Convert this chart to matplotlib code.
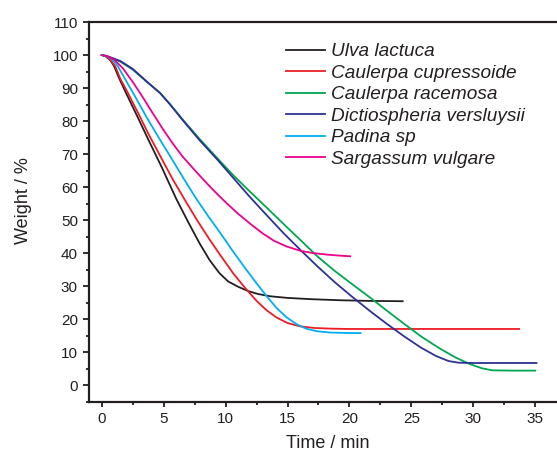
import matplotlib
matplotlib.use("Agg")
import matplotlib.pyplot as plt
from matplotlib.ticker import MultipleLocator

# weight loss curves (time in min, weight in %)
ulva_t = [0, 0.3, 0.7, 1.0, 1.4, 2.0, 2.8, 3.8, 4.9, 6.0, 7.0, 7.9, 8.7, 9.5, 10.2, 11.0, 11.8, 12.6, 13.6, 15.0, 17.0, 19.2, 21.5, 24.3]
ulva_w = [100, 99.7, 98.4, 96.6, 93.0, 88.2, 82.0, 74.1, 65.6, 56.6, 49.3, 43.0, 38.0, 34.0, 31.5, 29.9, 28.6, 27.7, 27.0, 26.5, 26.1, 25.8, 25.6, 25.5]

cupr_t = [0, 0.3, 0.7, 1.1, 1.5, 2.1, 2.9, 3.8, 4.7, 5.7, 6.7, 7.7, 8.7, 9.6, 10.6, 11.6, 12.5, 13.3, 14.1, 15.0, 16.0, 17.2, 18.5, 20, 25, 30, 33.7]
cupr_w = [100, 99.7, 98.5, 96.5, 92.8, 88.6, 82.7, 75.9, 69.6, 62.6, 56.2, 50.0, 44.2, 39.3, 34.0, 29.4, 25.6, 22.8, 20.6, 18.9, 17.9, 17.4, 17.2, 17.1, 17.1, 17.1, 17.1]

race_t = [0, 0.5, 1.5, 2.5, 3.6, 4.7, 5.5, 6.6, 7.9, 9.3, 10.6, 11.9, 13.3, 14.7, 16.1, 17.4, 18.8, 20.2, 21.7, 23.0, 24.4, 25.8, 27.2, 28.5, 29.7, 30.7, 31.5, 33.0, 35.0]
race_w = [100, 99.5, 98, 95.6, 92, 88.6, 85.2, 80.2, 74.6, 68.9, 63.7, 58.9, 53.9, 48.8, 43.8, 39.1, 34.7, 30.7, 26.5, 22.7, 18.7, 14.8, 11.4, 8.6, 6.5, 5.2, 4.6, 4.5, 4.5]

dict_t = [0, 0.5, 1.5, 2.5, 3.6, 4.7, 5.5, 6.6, 7.9, 9.3, 10.6, 11.9, 13.3, 14.7, 16.1, 17.4, 18.8, 20.2, 21.7, 23.0, 24.4, 25.8, 27.0, 28.0, 28.8, 30.0, 35.1]
dict_w = [100, 99.6, 98.2, 95.8, 92.1, 88.5, 85.1, 80.0, 74.2, 68.5, 62.9, 57.3, 51.6, 46.0, 40.8, 36.1, 31.3, 26.9, 22.4, 18.7, 14.9, 11.4, 8.9, 7.4, 6.9, 6.8, 6.8]

padi_t = [0, 0.3, 0.8, 1.3, 1.9, 2.7, 3.6, 4.6, 5.6, 6.6, 7.6, 8.6, 9.6, 10.5, 11.5, 12.4, 13.3, 14.1, 14.9, 15.7, 16.5, 17.4, 18.5, 19.7, 20.9]
padi_w = [100, 99.8, 98.8, 96.6, 92.6, 87.4, 81.3, 75, 68.9, 62.7, 56.7, 51.2, 46.0, 41.1, 35.9, 31.4, 27.1, 23.5, 20.7, 18.6, 17.2, 16.4, 16.0, 15.9, 15.85]

sarg_t = [0, 0.4, 1.0, 1.7, 2.55, 3.3, 4.1, 4.9, 5.7, 6.5, 7.4, 8.3, 9.2, 10.1, 11.0, 12.0, 13.0, 13.9, 14.9, 16.0, 17.0, 18.2, 19.2, 20.06]
sarg_w = [100, 99.7, 98.6, 96.0, 91.6, 87.3, 82.5, 77.8, 73.4, 69.4, 65.6, 61.9, 58.4, 55.1, 52.0, 48.9, 46.0, 43.8, 42.1, 40.8, 40.1, 39.6, 39.3, 39.1]

labels = ["Ulva lactuca", "Caulerpa cupressoide", "Caulerpa racemosa",
          "Dictiospheria versluysii", "Padina sp", "Sargassum vulgare"]

series = [(ulva_t, ulva_w, "#231f20"),
          (cupr_t, cupr_w, "#ed1c24"),
          (race_t, race_w, "#00a651"),
          (dict_t, dict_w, "#2e3192"),
          (padi_t, padi_w, "#00aeef"),
          (sarg_t, sarg_w, "#ec008c")]

plt.rcParams["font.family"] = ["Liberation Sans", "DejaVu Sans"]
text_col = "#231f20"

fig = plt.figure(figsize=(5.57, 4.53), dpi=100)
# right spine sits just past the image edge in the reference
ax = fig.add_axes([89 / 557, 1 - 402 / 453, 471 / 557, 380 / 453])

for (t, w, c), lab in zip(series, labels):
    ax.plot(t, w, color=c, lw=1.3, label=lab, solid_joinstyle="round")

ax.set_xlim(-1.03, 37)
ax.set_ylim(-5, 110)
ax.xaxis.set_major_locator(MultipleLocator(5))
ax.xaxis.set_minor_locator(MultipleLocator(2.5))
ax.yaxis.set_major_locator(MultipleLocator(10))
ax.yaxis.set_minor_locator(MultipleLocator(5))
ax.tick_params(which="both", direction="out", width=1.3, colors=text_col,
               labelsize=11, top=False, right=False)
ax.tick_params(axis="y", which="major", length=4.5)
ax.tick_params(axis="x", which="major", length=3.5)
ax.tick_params(which="minor", length=2.5)
for s in ax.spines.values():
    s.set_linewidth(1.6)
    s.set_color(text_col)

ax.set_xlabel("Time / min", fontsize=13, color=text_col)
ax.set_ylabel("Weight / %", fontsize=13, color=text_col)
ax.xaxis.set_label_coords(0.507, -0.086)
ax.yaxis.set_label_coords(-0.12, 0.53)

leg = ax.legend(loc="upper left", bbox_to_anchor=(197 / 471, 1 - 21 / 380),
                frameon=False, prop={"style": "italic", "size": 13.7},
                handlelength=2.05, handletextpad=0.3, labelspacing=0.22,
                borderaxespad=0, borderpad=0)
for txt in leg.get_texts():
    txt.set_color(text_col)

fig.savefig("out.png", dpi=100)
